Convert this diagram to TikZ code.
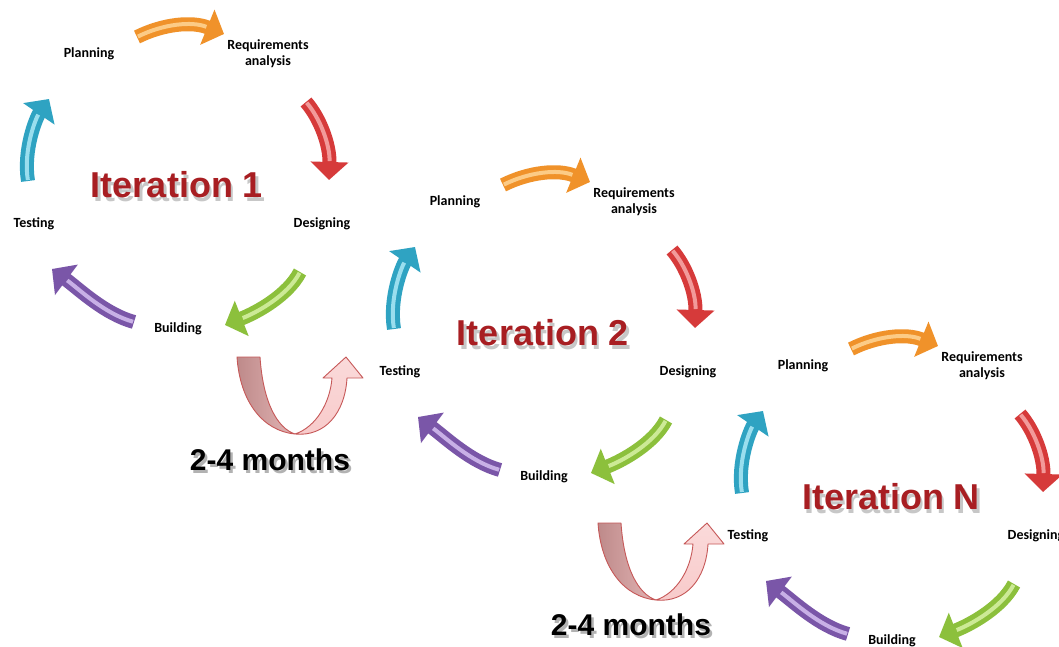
\documentclass[tikz,border=0pt]{standalone}
\usepackage{fontspec}
\setmainfont{Carlito}
\newfontfamily\bigfont{Liberation Sans}
\usetikzlibrary{arrows.meta}

\definecolor{orgA}{HTML}{F0922A}
\definecolor{orgB}{HTML}{FCCB86}
\definecolor{redA}{HTML}{D63A3A}
\definecolor{redB}{HTML}{F29A9A}
\definecolor{grnA}{HTML}{8CC03C}
\definecolor{grnB}{HTML}{CCEA96}
\definecolor{purA}{HTML}{7A56A8}
\definecolor{purB}{HTML}{C8B0E6}
\definecolor{cyaA}{HTML}{2FA3C2}
\definecolor{cyaB}{HTML}{9ADEEE}
\definecolor{itred}{HTML}{A81E22}
\definecolor{uDark}{HTML}{BE8A8A}
\definecolor{uMid}{HTML}{E2B4B4}
\definecolor{uLight}{HTML}{F8CACA}
\definecolor{uEdge}{HTML}{C65858}

\tikzset{
  lbl/.style={font=\bfseries\fontsize{14}{16}\selectfont, align=center, inner sep=0pt},
  itlbl/.style={font=\bigfont\bfseries\fontsize{36}{36}\selectfont, text=itred, inner sep=0pt},
  itshadow/.style={font=\bigfont\bfseries\fontsize{36}{36}\selectfont, text=black!22, inner sep=0pt},
  mlbl/.style={font=\bigfont\bfseries\fontsize{30}{30}\selectfont, text=black, inner sep=0pt},
  mshadow/.style={font=\bigfont\bfseries\fontsize{30}{30}\selectfont, text=black!30, inner sep=0pt},
  blk/.style={line width=14pt, -{Triangle[length=18pt,width=37pt]}},
  hl/.style={line width=4pt, shorten >=19pt, shorten <=1pt},
  uedge/.style={draw=uEdge, line width=0.9pt, line join=round},
}

\newcommand\barrow[6]{%
  \draw[blk, color=#1] (#3) .. controls #4 and #5 .. (#6);
  \draw[hl, color=#2] (#3) .. controls #4 and #5 .. (#6);
}

\newcommand\itercycle[2]{%
  \node[lbl] (#1plan) at (89,54) {Planning};
  \node[lbl] (#1req) at (268,54) {Requirements\\analysis};
  \node[lbl] (#1des) at (322,224) {Designing};
  \node[lbl] (#1bui) at (178,329) {Building};
  \node[lbl] (#1tes) at (34,224) {Testing};
  \node[itshadow] (#1its) at (179.5,188.5) {#2};
  \node[itlbl] (#1it) at (177,185) {#2};
  \coordinate (#1o1) at (137,37);  \coordinate (#1o2) at (224,34);
  \coordinate (#1r1) at (306,102); \coordinate (#1r2) at (329,180);
  \coordinate (#1g1) at (300,272); \coordinate (#1g2) at (225,325);
  \coordinate (#1p1) at (134,322); \coordinate (#1p2) at (52,269);
  \coordinate (#1c1) at (28,181);  \coordinate (#1c2) at (49,99);
  \barrow{orgA}{orgB}{#1o1}{(163,24)}{(192,21)}{#1o2}
  \barrow{redA}{redB}{#1r1}{(320,118)}{(330,145)}{#1r2}
  \barrow{grnA}{grnB}{#1g1}{(288,295)}{(258,312)}{#1g2}
  \barrow{purA}{purB}{#1p1}{(105,314)}{(80,290)}{#1p2}
  \barrow{cyaA}{cyaB}{#1c1}{(23,150)}{(36,118)}{#1c2}
}

\newcommand\uturn[1]{%
  \coordinate (#1top) at (0,0);
  \coordinate (#1bot) at (58,77);
  \coordinate (#1tip) at (109,0);
  \path[uedge, left color=uDark, right color=uMid]
    (#1top) -- (23,0) .. controls (26,45) and (40,71) .. (#1bot)
    .. controls (26,74) and (3,45) .. (#1top) -- cycle;
  \path[uedge, top color=uLight!70!white, bottom color=uLight]
    (#1bot) .. controls (79,70) and (93,46) .. (95,21) -- (86,21) -- (#1tip)
    -- (126,21) -- (110,21) .. controls (108,56) and (88,80) .. (#1bot) -- cycle;
}

\begin{document}
\begin{tikzpicture}[x=1pt,y=-1pt]
\fill[white] (0,0) rectangle (1059,647);
\clip (0,0) rectangle (1059,647);

\begin{scope}
  \itercycle{a}{Iteration 1}
\end{scope}
\begin{scope}[shift={(366,148)}]
  \itercycle{b}{Iteration 2}
\end{scope}
\begin{scope}[shift={(714,312)}]
  \itercycle{c}{Iteration N}
\end{scope}

\begin{scope}[shift={(237,357)}]
  \uturn{u}
\end{scope}
\begin{scope}[shift={(598,523)}]
  \uturn{v}
\end{scope}

\node[mshadow] (m1s) at (272.5,463) {2-4 months};
\node[mlbl] (m1) at (270,460) {2-4 months};
\node[mshadow] (m2s) at (633.5,628) {2-4 months};
\node[mlbl] (m2) at (631,625) {2-4 months};
\end{tikzpicture}
\end{document}
